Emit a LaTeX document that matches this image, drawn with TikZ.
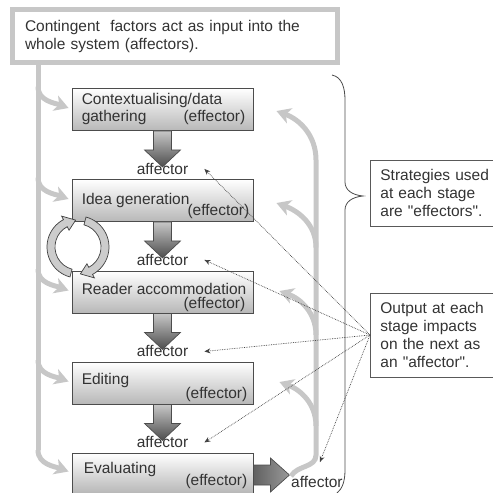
\documentclass[tikz,border=0pt]{standalone}
\usepackage{fontspec}
\setmainfont{Liberation Sans}
\usetikzlibrary{arrows.meta,calc}

\begin{document}
\begin{tikzpicture}[x=1pt,y=1pt,
    txt/.style={font=\fontsize{15.5}{18}\selectfont, inner sep=0pt, text=black!80},
    stage/.style={draw=black!70, line width=0.9pt, top color=white, bottom color=black!28,
      minimum width=181pt, minimum height=42pt, inner sep=0pt},
    rail/.style={draw=black!22, line width=5pt},
    railarrow/.style={rail, -{Stealth[length=14pt,width=16pt,inset=4pt]}},
    downarrow/.style={draw=black!70, line width=0.7pt, top color=black!22, bottom color=black!70},
    note/.style={txt, draw=black!65, line width=0.8pt, align=left, inner xsep=10pt,
      text width=120pt, anchor=west},
    hint/.style={black!75, densely dotted, line width=0.7pt, -{Stealth[length=6pt,width=5pt]}},
    cycfill/.style={draw=black!75, line width=0.7pt, fill=black!20}]
    \useasboundingbox (0,0) rectangle (493,-493);

    % input box
    \node[txt, draw=black!22, line width=5pt, text width=300pt, align=left,
      minimum width=325pt, minimum height=53pt] (cont) at (175,-36)
      {Contingent~ factors act as input into the\\whole system (affectors).};

    % stages
    \node[stage] (b1) at (162.5,-109.5) {};
    \node[stage] (b2) at (162.5,-200.5) {};
    \node[stage] (b3) at (162.5,-292) {};
    \node[stage] (b4) at (162.5,-383) {};
    \node[stage, minimum height=40pt] (b5) at (162.5,-473) {};

    \node[txt, anchor=west] (t1) at ([shift={(10,-12)}]b1.north west) {Contextualising/data};
    \node[txt, anchor=west] (u1) at ([shift={(10,13)}]b1.south west) {gathering};
    \node[txt, anchor=east] (e1) at ([shift={(-8,13)}]b1.south east) {(effector)};
    \node[txt, anchor=west] (t2) at ([shift={(10,-21)}]b2.north west) {Idea generation};
    \node[txt, anchor=east] (e2) at ([shift={(-4,10)}]b2.south east) {(effector)};
    \node[txt, anchor=west] (t3) at ([shift={(10,-18)}]b3.north west) {Reader accommodation};
    \node[txt, anchor=east] (e3) at ([shift={(-8,9)}]b3.south east) {(effector)};
    \node[txt, anchor=west] (t4) at ([shift={(10,-19)}]b4.north west) {Editing};
    \node[txt, anchor=east] (e4) at ([shift={(-6,10)}]b4.south east) {(effector)};
    \node[txt, anchor=west] (t5) at ([shift={(12,-17)}]b5.north west) {Evaluating};
    \node[txt, anchor=east] (e5) at ([shift={(-6,12)}]b5.south east) {(effector)};

    % outputs
    \foreach \i in {1,...,4} {
      \node[txt] (a\i) at ([yshift=-38pt]b\i.south) {affector};
      \path[downarrow] ([xshift=-9pt]b\i.south) -- ++(0,-19) -- ++(-9,0) -- ++(18,-17)
        -- ++(18,17) -- ++(-9,0) -- ++(0,19) -- cycle;
    }
    \path[downarrow, left color=black!62, right color=black!40]
      ([yshift=8pt]b5.east) -- ++(17,0) -- ++(0,7) -- ++(19,-17) -- ++(-19,-17)
      -- ++(0,7) -- ++(-17,0) -- cycle;
    \node[txt, anchor=west] (a5) at (291,-482) {affector};

    % left rail
    \coordinate (lrail) at (38,-450);
    \draw[rail] (cont.south -| lrail) -- (lrail);
    \foreach \i in {1,...,5}
      \draw[railarrow] ([yshift=23pt]b\i.west -| lrail) to[out=-90,in=160]
        ([shift={(-3,1.5)}]b\i.west);

    % right rail
    \coordinate (fbbot) at (316,-455);
    \coordinate (fbtop) at (316,-160);
    \draw[railarrow] (a5.north west) to[out=60,in=-90] (fbbot) -- (fbtop)
      to[out=90,in=-20] ([shift={(23,-1.5)}]b1.east);
    \draw[railarrow] ([yshift=-47pt]b2.east -| fbtop) to[out=90,in=-20] ([shift={(23,-2.5)}]b2.east);
    \draw[railarrow] ([yshift=-43pt]b3.east -| fbtop) to[out=90,in=-20] ([shift={(26,1)}]b3.east);
    \draw[railarrow] ([yshift=-43pt]b4.east -| fbtop) to[out=90,in=-20] ([shift={(26,1)}]b4.east);

    % cycle icon
    \coordinate (cyc) at (78,-247);
    \filldraw[cycfill] ($(cyc)+(255:31)$) arc[start angle=255, end angle=118, radius=31]
      -- ($(cyc)+(118:35)$) -- ($(cyc)+(95:27)$) -- ($(cyc)+(118:19)$)
      -- ($(cyc)+(118:23)$) arc[start angle=118, end angle=255, radius=23] -- cycle;
    \filldraw[cycfill] ($(cyc)+(75:31)$) arc[start angle=75, end angle=-62, radius=31]
      -- ($(cyc)+(-62:35)$) -- ($(cyc)+(-85:27)$) -- ($(cyc)+(-62:19)$)
      -- ($(cyc)+(-62:23)$) arc[start angle=-62, end angle=75, radius=23] -- cycle;

    % brace and notes
    \draw[black!70, line width=0.8pt] (332,-75) .. controls (342,-77) and (345,-88) .. (345,-100)
      -- (345,-182) .. controls (345,-190) and (352,-195) .. (363,-196)
      .. controls (352,-197) and (345,-202) .. (345,-210)
      -- (345,-470) .. controls (345,-482) and (342,-489) .. (337,-493);
    \node[note, minimum height=66pt] (strat) at (370,-193)
      {Strategies used\\at each stage\\are \textquotedbl effectors\textquotedbl.};
    \node[note, minimum height=84pt] (outp) at (370,-335)
      {Output at each\\stage impacts\\on the next as\\an \textquotedbl affector\textquotedbl.};

    \foreach \i in {1,...,4}
      \draw[hint] (outp.west) -- ([xshift=16pt]a\i.east);
    \draw[hint] (outp.west) -- ([shift={(3,14)}]a5.north);
\end{tikzpicture}
\end{document}
